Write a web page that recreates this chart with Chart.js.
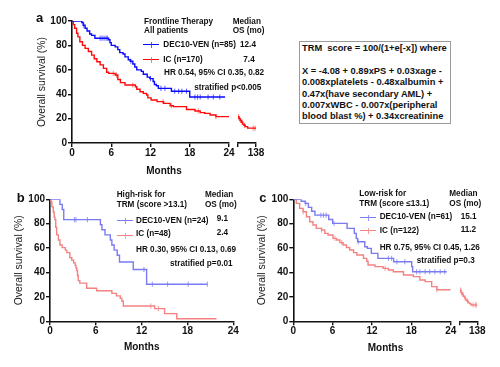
<!DOCTYPE html>
<html><head><meta charset="utf-8">
<script src="https://cdn.jsdelivr.net/npm/chart.js@4.4.0/dist/chart.umd.min.js"></script>
<style>
html,body{margin:0;padding:0;background:#fff;}
#root{position:relative;width:500px;height:367px;overflow:hidden;font-family:'Liberation Sans',Arial,sans-serif;}
.pn{position:absolute;}
.t{position:absolute;white-space:pre;font-weight:bold;color:#111;}
.box{position:absolute;border:1px solid #9a9a9a;box-sizing:border-box;}
.lg{position:absolute;height:0;}
.lg i{position:absolute;left:50%;top:-3px;width:0;height:6px;}
</style></head><body><div id="root">
<div class="pn" style="left:0;top:0;width:270px;height:175px"><canvas id="ca" width="270" height="175"></canvas></div>
<div class="pn" style="left:0;top:175px;width:250px;height:192px"><canvas id="cb" width="250" height="192"></canvas></div>
<div class="pn" style="left:250px;top:175px;width:250px;height:192px"><canvas id="cc" width="250" height="192"></canvas></div>
</div>
<script>
// ---------- tick labels ----------
const monthTicks = [0, 6, 12, 18, 24];
const survTicks = [0, 20, 40, 60, 80, 100];
const tailTicks = [24, 138];

// ---------- panel a: all patients ----------
const aVenT = [0,1.5,1.7,2.0,2.3,2.7,3.0,3.5,5.6,5.8,6.0,6.6,7.0,7.3,7.8,8.1,8.6,8.9,9.3,9.6,9.9,10.6,10.9,11.5,11.9,12.4,12.6,12.9,13.2,15.2,18.0,23.4];
const aVenS = [100,98.8,96.5,94.1,91.8,89.4,88.2,85.9,84.6,82.3,80.0,78.8,76.5,74.1,72.9,70.6,68.2,67.0,64.7,62.3,59.9,58.7,56.4,54.0,52.8,50.4,48.0,46.9,44.8,42.4,37.7,37.7];
const aVenCens = [1.8,4.3,4.6,4.9,5.2,5.4,9.0,12.0,13.6,14.2,15.7,16.3,16.8,17.5,18.8,19.2,19.6,20.8,21.6,22.6];
const aIcT = [0,0.2,0.4,0.7,0.9,1.2,1.6,2.0,2.5,3.0,3.4,3.8,4.3,4.8,5.3,5.6,6.6,7.0,7.4,8.1,9.7,9.9,10.4,10.9,11.4,11.6,12.1,13.0,14.0,15.0,15.5,17.5,18.8,19.6,20.3,21.1,22.0,24.0];
const aIcS = [100,97,94,90,87,83,80,77.6,75,72,69,66.6,64,61.2,58,57.1,55.7,52,49.5,47.5,46.1,44,42,40.7,39.3,37,35.2,33.9,32.5,30.5,29.8,27.5,26.2,24.9,24.3,22.9,21.6,21.6];
const aIcCens = [6.3,6.8,9.3,13.9,15.2,19.3,22.0];
const aIcTailT = [24,30,38,46,54,62,70,85,138];
const aIcTailS = [21.6,20,18.5,17,15.5,14.5,13.4,12.2,12.2];
const aIcTailCens = [27,33,41,50,66,120,132];

// ---------- panel b: high-risk ----------
const bVenT = [0,1.3,1.6,1.8,6.6,6.8,7.2,7.9,8.1,8.4,8.8,9.1,10.9,12.65,20.6];
const bVenS = [100,95.8,91.7,83.3,79.2,75,70.8,66.7,62.5,58.3,54.2,48.6,42.5,30.4,30.4];
const bVenCens = [3.2,3.4,4.9,12.3,13.4,15.4,18.1,20.6];
const bIcT = [0,0.13,0.25,0.43,0.55,0.65,0.75,0.87,1.09,1.3,1.6,2.0,2.2,2.6,2.85,3.1,3.3,3.4,3.5,3.6,3.7,3.9,4.8,6.1,8.1,8.7,9.2,9.4,9.6,13.7,15.0,16.6,21.8];
const bIcS = [100,97.9,93.8,89.6,85.4,83.3,77.1,70.8,66.7,62.5,60.4,58.3,56.3,52.1,50,47.9,45.8,43.8,41.7,37.5,33.3,31.3,27.1,25,22.9,20.8,18.8,16.7,12.5,10.4,6.3,2.1,2.1];
const bIcCens = [13.2,14.2];

// ---------- panel c: low-risk ----------
const cVenT = [0,1.2,1.8,2.3,2.8,3.3,5.4,6.0,8.2,9.3,9.6,9.8,10.9,11.3,11.9,12.9,15.3,18.05,18.2,23.4];
const cVenS = [100,98.4,96.7,93.4,90.2,87.0,83.5,80.3,76.2,72.1,68.0,65.2,61.1,59.8,55.7,51.6,48.8,44.8,40.6,40.6];
const cVenCens = [1.9,4.2,4.6,5.0,6.2,9.9,14.5,15.0,15.8,17.0,18.8,19.3,20.1,20.8,21.6,22.4,23.1];
const cIcT = [0,0.45,0.97,1.5,2.0,2.5,3.0,3.5,4.3,4.8,5.3,6.05,6.6,7.1,7.6,8.1,8.6,9.2,9.7,10.7,11.2,11.4,12.45,13.7,14.5,15.25,16.8,18.3,19.3,20.1,21.1,21.9,24];
const cIcS = [100,96.7,92.6,89.8,85.7,81.6,78.9,76.2,74.8,72.1,70.7,68,66.6,64.5,62.5,60.5,58.4,56.3,54.3,51.6,49.2,46.1,44.8,43.4,42,40.6,38,36.6,33.8,32.5,28.4,25.9,25.9];
const cIcCens = [1.5,4.3,6.35,7.4,14.0,21.9];
const cIcTailT = [24,30,38,46,54,62,70,78,86,96,138];
const cIcTailS = [25.7,23.5,22,20.5,19,17.5,16.5,15.5,14.5,13.4,13.4];
const cIcTailCens = [28,35,44,58,75,110,125,134];

const F = "'Liberation Sans', Arial, sans-serif";

function km(t, s) { return t.map((x, i) => ({x: x, y: s[i]})); }
function stepAt(t, s, x) { let v = s[0]; for (let i = 0; i < t.length; i++) { if (t[i] <= x) v = s[i]; } return v; }
function cens(t, s, ct) { return ct.map(x => ({x: x, y: stepAt(t, s, x)})); }

function curve(data, color, axis) {
  return {data: data, borderColor: color, borderWidth: 1.4, stepped: 'before', pointRadius: 0, fill: false, xAxisID: axis || 'x', yAxisID: 'y'};
}
function marks(data, color, axis) {
  return {data: data, showLine: false, pointStyle: 'line', pointRotation: 90, pointRadius: 2.6, pointBorderWidth: 1, pointBorderColor: color, borderColor: color, xAxisID: axis || 'x', yAxisID: 'y'};
}

const axisGrid = {display: true, drawOnChartArea: false, drawTicks: true, tickLength: 4, color: '#111', lineWidth: 1.4};
const axisBorder = {display: true, color: '#111', width: 1.6};
const tickFont = {family: F, size: 10, weight: 'bold'};

function makeChart(id, cfg, datasets) {
  const scales = {
    y: {
      type: 'linear', position: 'left', min: 0, max: 100,
      afterBuildTicks: s => { s.ticks = survTicks.map(v => ({value: v})); },
      afterFit: s => { s.width = cfg.yWidth; },
      grid: axisGrid, border: axisBorder,
      ticks: {font: tickFont, color: '#111', padding: 1},
      title: {display: true, text: 'Overall survival (%)', font: {family: F, size: 10.4}, color: '#222', padding: {top: cfg.yTitlePad, bottom: 0}}
    },
    x: {
      type: 'linear', position: 'bottom', min: 0, max: 24,
      stack: cfg.broken ? 'months' : undefined, stackWeight: cfg.mainW,
      afterBuildTicks: s => { s.ticks = monthTicks.map(v => ({value: v})); },
      afterFit: s => { s.height = 20; },
      grid: axisGrid, border: axisBorder,
      ticks: {font: tickFont, color: '#111', padding: 0, maxRotation: 0, autoSkip: false}
    }
  };
  if (cfg.broken) {
    scales.gap = {type: 'linear', position: 'bottom', stack: 'months', stackWeight: cfg.gapW, display: false, min: 0, max: 1};
    scales.x2 = {
      type: 'linear', position: 'bottom', min: 24, max: 138, stack: 'months', stackWeight: cfg.tailW,
      afterBuildTicks: s => { s.ticks = tailTicks.map(v => ({value: v})); },
      afterFit: s => { s.height = 20; },
      grid: axisGrid, border: axisBorder,
      ticks: {font: tickFont, color: '#111', padding: 0, maxRotation: 0, autoSkip: false, callback: v => (v === 138 ? '138' : '')}
    };
  }
  return new Chart(document.getElementById(id), {
    type: 'line',
    data: {datasets: datasets},
    options: {
      responsive: false, animation: false, events: [],
      layout: {padding: cfg.pad},
      plugins: {legend: {display: false}, tooltip: {enabled: false}, title: {display: false}},
      scales: scales
    }
  });
}

// panel a colours
const aBlue = '#0a0aff', aRed = '#ff0a0a';
const aBlueM = 'rgba(40,40,255,0.75)', aRedM = 'rgba(255,90,90,0.8)';
makeChart('ca', {yWidth: 72, yTitlePad: 35.5, broken: true, mainW: 157, gapW: 9, tailW: 18, pad: {top: 21, left: 0, right: 14, bottom: 12}}, [
  curve(km(aVenT, aVenS), aBlue),
  curve(km(aIcT, aIcS), aRed),
  curve(km(aIcTailT, aIcTailS), aRed, 'x2'),
  marks(cens(aVenT, aVenS, aVenCens), aBlueM),
  marks(cens(aIcT, aIcS, aIcCens), aRedM),
  marks(cens(aIcTailT, aIcTailS, aIcTailCens), aRedM, 'x2')
]);

const lBlue = '#7a7af2', lRed = '#f48282';
const lBlueM = 'rgba(140,140,250,0.9)', lRedM = 'rgba(245,150,150,0.9)';
makeChart('cb', {yWidth: 50, yTitlePad: 12.8, broken: false, pad: {top: 24.3, left: 0, right: 16.7, bottom: 25.7}}, [
  curve(km(bVenT, bVenS), lBlue),
  curve(km(bIcT, bIcS), lRed),
  marks(cens(bVenT, bVenS, bVenCens), lBlueM),
  marks(cens(bIcT, bIcS, bIcCens), lRedM)
]);

makeChart('cc', {yWidth: 43.3, yTitlePad: 5.5, broken: true, mainW: 157.4, gapW: 9.3, tailW: 17.3, pad: {top: 24.3, left: 0, right: 22.7, bottom: 25.7}}, [
  curve(km(cVenT, cVenS), lBlue),
  curve(km(cIcT, cIcS), lRed),
  curve(km(cIcTailT, cIcTailS), lRed, 'x2'),
  marks(cens(cVenT, cVenS, cVenCens), lBlueM),
  marks(cens(cIcT, cIcS, cIcCens), lRedM),
  marks(cens(cIcTailT, cIcTailS, cIcTailCens), lRedM, 'x2')
]);

// ---------- annotations (HTML text) ----------
const root = document.getElementById('root');
function txt(x, base, s, size, center) {
  const d = document.createElement('div');
  d.className = 't';
  d.textContent = s;
  d.style.fontSize = size + 'px';
  d.style.lineHeight = size + 'px';
  d.style.left = x + 'px';
  d.style.top = (base - 0.8465 * size) + 'px';
  if (center) d.style.transform = 'translateX(-50%)';
  root.appendChild(d);
}
function legendLine(x1, x2, y, color, markColor) {
  const d = document.createElement('div');
  d.className = 'lg';
  d.style.left = x1 + 'px'; d.style.top = (y - 0.7) + 'px';
  d.style.width = (x2 - x1) + 'px';
  d.style.borderTop = '1.4px solid ' + color;
  const i = document.createElement('i');
  i.style.borderLeft = '1px solid ' + markColor;
  d.appendChild(i);
  root.appendChild(d);
}
const A = 8.2;
// panel a
txt(36, 21.7, 'a', 13);
txt(144, 25, 'Frontline Therapy', A);
txt(144, 34.3, 'All patients', A);
txt(232.7, 25, 'Median', A);
txt(232.7, 34.3, 'OS (mo)', A);
legendLine(143.3, 159.3, 45, aBlue, aBlueM);
txt(163.3, 48, 'DEC10-VEN (n=85)', A);
txt(240, 48, '12.4', A);
legendLine(143.3, 159.3, 60, aRed, aRedM);
txt(163.3, 63, 'IC (n=170)', A);
txt(243.3, 63, '7.4', A);
txt(164, 76, 'HR 0.54, 95% CI 0.35, 0.82', A);
txt(194.3, 90.5, 'stratified p<0.005', A);
txt(164, 174, 'Months', 10, true);

// panel b
txt(16.7, 201.7, 'b', 13);
txt(116.7, 197.5, 'High-risk for', A);
txt(116.7, 207.5, 'TRM (score >13.1)', A);
txt(205, 197.5, 'Median', A);
txt(205, 207.5, 'OS (mo)', A);
legendLine(116.7, 132.7, 220.7, lBlue, lBlueM);
txt(136, 224, 'DEC10-VEN (n=24)', A);
txt(216.7, 221.7, '9.1', A);
legendLine(116.7, 132.7, 235.7, lRed, lRedM);
txt(136, 237, 'IC (n=48)', A);
txt(216.7, 236, '2.4', A);
txt(136, 252.5, 'HR 0.30, 95% CI 0.13, 0.69', A);
txt(170, 266.8, 'stratified p=0.01', A);
txt(141.7, 350.7, 'Months', 10, true);

// panel c
txt(259.3, 201.7, 'c', 13);
txt(359.3, 196.5, 'Low-risk for', A);
txt(359.3, 206.5, 'TRM (score \u226413.1)', A);
txt(449.3, 196.5, 'Median', A);
txt(449.3, 206.5, 'OS (mo)', A);
legendLine(360, 376, 217.3, lBlue, lBlueM);
txt(379.7, 220.3, 'DEC10-VEN (n=61)', A);
txt(460.7, 220, '15.1', A);
legendLine(360, 376, 230.7, lRed, lRedM);
txt(379.7, 233.7, 'IC (n=122)', A);
txt(460.7, 232.7, '11.2', A);
txt(379.7, 250.5, 'HR 0.75, 95% CI 0.45, 1.26', A);
txt(416.7, 263.5, 'stratified p=0.3', A);
txt(385.5, 351, 'Months', 10, true);

// TRM formula box
const box = document.createElement('div');
box.className = 'box';
box.style.left = '299.3px'; box.style.top = '40.7px'; box.style.width = '151.4px'; box.style.height = '83.6px';
root.appendChild(box);
const B = 9.3;
txt(302, 52, 'TRM  score = 100/(1+e[-x]) where', B);
txt(302, 75, 'X = -4.08 + 0.89xPS + 0.03xage -', B);
txt(302, 86.3, '0.008xplatelets - 0.48xalbumin +', B);
txt(302, 97.5, '0.47x(have secondary AML) +', B);
txt(302, 108.7, '0.007xWBC - 0.007x(peripheral', B);
txt(302, 119.9, 'blood blast %) + 0.34xcreatinine', B);
</script>
</body></html>
